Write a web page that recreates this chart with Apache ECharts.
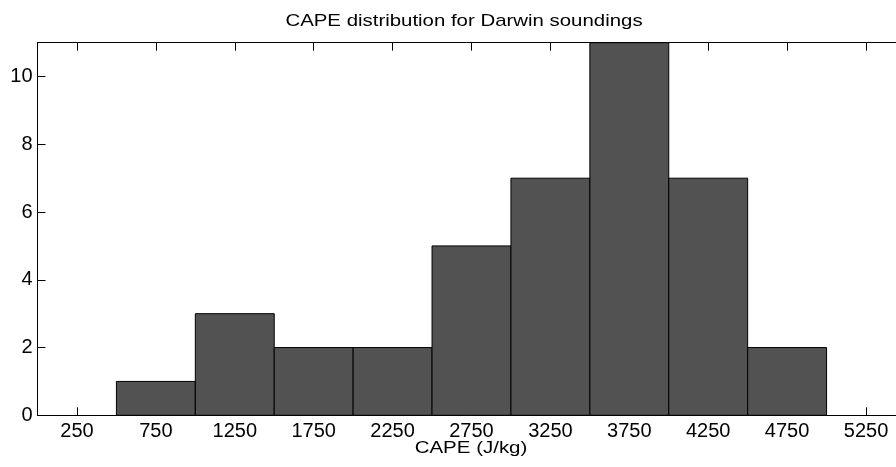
<!DOCTYPE html>
<html><head><meta charset="utf-8">
<script src="https://cdn.jsdelivr.net/npm/echarts@6/dist/echarts.min.js"></script>
<style>html,body{margin:0;padding:0;background:#fff}#c{width:896px;height:467px}</style>
</head><body><div id="c"></div>
<script>
const titleText = 'CAPE distribution for Darwin soundings';
const xAxisName = 'CAPE (J/kg)';
const binCenters = [750, 1250, 1750, 2250, 2750, 3250, 3750, 4250, 4750];
const counts = [1, 3, 2, 2, 5, 7, 11, 7, 2];
const binWidth = 500;
const xTicks = [250, 750, 1250, 1750, 2250, 2750, 3250, 3750, 4250, 4750, 5250];
const yTicks = [0, 2, 4, 6, 8, 10];

const chart = echarts.init(document.getElementById('c'), null, {renderer: 'canvas'});
const font = 'Liberation Sans, Arial, sans-serif';
const data = binCenters.map((c, i) => [c - binWidth / 2, c + binWidth / 2, counts[i]]);
chart.setOption({
  animation: false,
  backgroundColor: '#fff',
  graphic: [{
    type: 'text', x: 464, y: 13, scaleX: 1.2,
    style: {text: titleText, font: '17px ' + font, fill: '#000', align: 'center', verticalAlign: 'top'}
  }, {
    type: 'text', x: 471, y: 441, scaleX: 1.28,
    style: {text: xAxisName, font: '16px ' + font, fill: '#000', align: 'center', verticalAlign: 'top'}
  }],
  grid: {left: 37.5, top: 42.7, right: 0, height: 372.6, containLabel: false},
  xAxis: [{
    type: 'value', min: 0, max: 5440, position: 'bottom',
    axisLine: {show: true, onZero: false, lineStyle: {color: '#000', width: 1}},
    axisTick: {show: true, inside: true, length: 8, customValues: xTicks, lineStyle: {color: '#000'}},
    axisLabel: {show: true, customValues: xTicks, margin: 6, fontFamily: font, fontSize: 20, color: '#000',
      formatter: v => String(v)},
    splitLine: {show: false}
  }, {
    type: 'value', min: 0, max: 5440, position: 'top',
    axisLine: {show: true, onZero: false, lineStyle: {color: '#000', width: 1}},
    axisTick: {show: true, inside: true, length: 8, customValues: xTicks, lineStyle: {color: '#000'}},
    axisLabel: {show: false},
    splitLine: {show: false}
  }],
  yAxis: [{
    type: 'value', min: 0, max: 11, position: 'left',
    axisLine: {show: true, onZero: false, lineStyle: {color: '#000', width: 1}},
    axisTick: {show: true, inside: true, length: 8, customValues: yTicks, lineStyle: {color: '#000'}},
    axisLabel: {show: true, customValues: yTicks, margin: 5, fontFamily: font, fontSize: 20, color: '#000'},
    splitLine: {show: false}
  }],
  series: [{
    type: 'custom',
    xAxisIndex: 0, yAxisIndex: 0,
    data: data,
    encode: {x: [0, 1], y: 2},
    renderItem: function (params, api) {
      const p0 = api.coord([api.value(0), 0]);
      const p1 = api.coord([api.value(1), api.value(2)]);
      return {
        type: 'rect',
        shape: {x: p0[0], y: p1[1], width: p1[0] - p0[0], height: p0[1] - p1[1]},
        style: {fill: '#525252', stroke: '#000', lineWidth: 1}
      };
    }
  }]
});
</script></body></html>
